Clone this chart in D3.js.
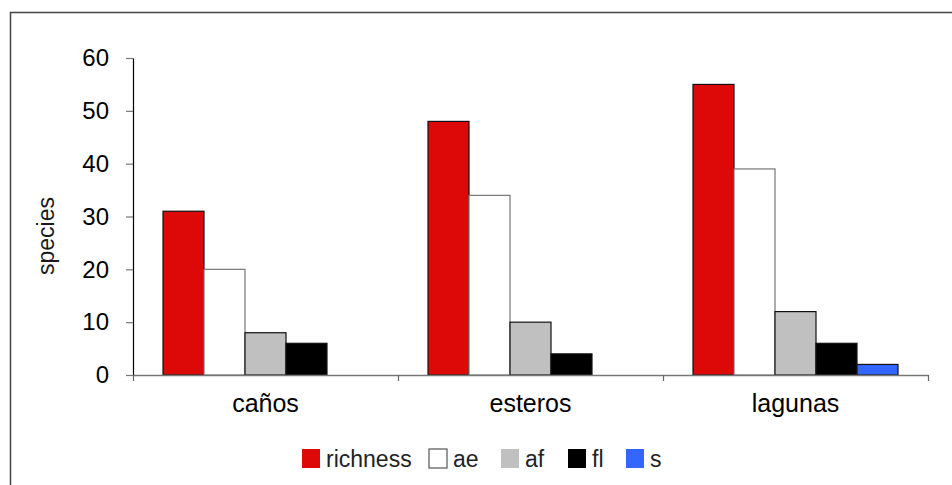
<!DOCTYPE html>
<html><head><meta charset="utf-8">
<script src="https://cdn.jsdelivr.net/npm/d3@7/dist/d3.min.js"></script>
<style>body{margin:0;background:#fff}svg{display:block}text{font-family:"Liberation Sans",Arial,sans-serif;fill:#1a1a1a}</style>
</head><body>
<script>
const categories = ["caños", "esteros", "lagunas"];
const seriesNames = ["richness", "ae", "af", "fl", "s"];
const richness = [31, 48, 55];
const ae = [20, 34, 39];
const af = [8, 10, 12];
const fl = [6, 4, 6];
const s = [0, 0, 2];
const yTicks = [0, 10, 20, 30, 40, 50, 60];
const colors = ["#dd0808", "#ffffff", "#c0c0c0", "#000000", "#3366ff"];
const seriesValues = [richness, ae, af, fl, s];

(function () {
const W = 952, H = 485;
const svg = d3.select("body").append("svg").attr("width", W).attr("height", H);
svg.append("rect").attr("x", 10.5).attr("y", 12.5).attr("width", W + 10).attr("height", H + 10)
  .attr("fill", "none").attr("stroke", "#444").attr("stroke-width", 1.5);

const mLeft = 133, mRight = 928, mTop = 58, mBottom = 375;
const x0 = d3.scaleBand().domain(categories).range([mLeft, mRight]).paddingInner(0).paddingOuter(0);
const x1 = d3.scaleBand().domain(seriesNames).range([30, x0.bandwidth() - 30]).padding(0);
const y = d3.scaleLinear().domain([0, 60]).range([mBottom, mTop]);

const groups = svg.append("g").selectAll("g").data(categories).join("g")
  .attr("transform", d => `translate(${x0(d)},0)`);
groups.selectAll("rect").data((c, i) => seriesNames.map((n, k) => ({n, v: seriesValues[k][i], k})).filter(d => d.v > 0))
  .join("rect")
  .attr("x", d => x1(d.n)).attr("width", x1.bandwidth())
  .attr("y", d => y(d.v)).attr("height", d => y(0) - y(d.v))
  .attr("fill", d => colors[d.k])
  .attr("stroke", d => d.k === 1 ? "#777" : "#111").attr("stroke-width", 1.2);

// y axis
const ya = svg.append("g").attr("transform", `translate(${mLeft},0)`)
  .call(d3.axisLeft(y).tickValues(yTicks).tickSize(7).tickSizeOuter(0).tickPadding(17));
ya.select(".domain").attr("stroke", "#000").attr("stroke-width", 1.2);
ya.selectAll(".tick line").attr("stroke", "#777").attr("stroke-width", 1.2);
ya.selectAll("text").style("font-size", "24px").style("fill", "#000");

// x axis
const xa = svg.append("g").attr("transform", `translate(0,${mBottom})`)
  .call(d3.axisBottom(x0).tickSize(0).tickPadding(19));
xa.select(".domain").attr("stroke", "#777").attr("stroke-width", 1.5);
xa.selectAll("text").style("font-size", "25px").style("fill", "#000");
const bounds = [mLeft, ...categories.map(c => x0(c) + x0.bandwidth())];
svg.append("g").selectAll("line").data(bounds).join("line")
  .attr("x1", d => d + 0.5).attr("x2", d => d + 0.5).attr("y1", mBottom).attr("y2", mBottom + 6)
  .attr("stroke", "#666").attr("stroke-width", 1.2);

svg.append("text").attr("transform", "translate(54,236) rotate(-90)")
  .attr("text-anchor", "middle").style("font-size", "23px").text("species");

// legend
const legX = [302, 429, 501, 568, 626];
const leg = svg.append("g").selectAll("g").data(seriesNames).join("g")
  .attr("transform", (d, i) => `translate(${legX[i]},449)`);
leg.append("rect").attr("width", 18).attr("height", 19)
  .attr("fill", (d, i) => colors[i])
  .attr("stroke", (d, i) => i === 1 ? "#555" : "none").attr("stroke-width", 1.2);
leg.append("text").attr("x", 24).attr("y", 18).style("font-size", "23px").style("fill", "#222").text(d => d);
})();
</script>
</body></html>
